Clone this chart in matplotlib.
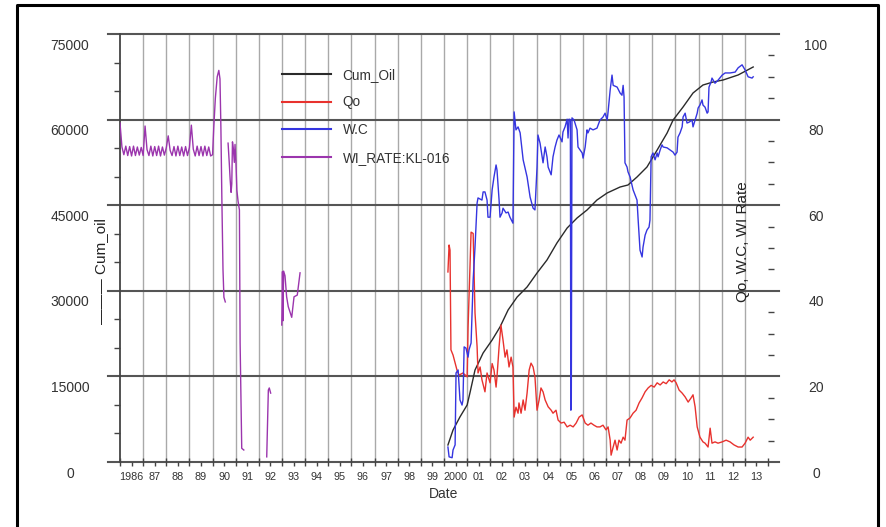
import numpy as np
import matplotlib
matplotlib.use('Agg')
import matplotlib.pyplot as plt
from matplotlib.lines import Line2D
from matplotlib.transforms import ScaledTranslation

nan = np.nan

# Cum_Oil (left axis)
cum_pts = [(2000.17, 2980), (2000.39, 5600), (2000.69, 7900), (2001.00, 9990), (2001.13, 12270),
           (2001.34, 16120), (2001.69, 19100), (2002.08, 21380), (2002.42, 23660), (2002.77, 26640),
           (2003.16, 28910), (2003.59, 30670), (2004.02, 33120), (2004.45, 35400), (2004.88, 38380),
           (2005.32, 41000), (2005.75, 42760), (2006.18, 44160), (2006.61, 45910), (2007.05, 47140),
           (2007.61, 48190), (2007.95, 48540), (2008.34, 49940), (2008.77, 51690), (2009.21, 54670),
           (2009.64, 57650), (2009.90, 59930), (2010.33, 62210), (2010.76, 64660), (2011.19, 66060),
           (2011.63, 66590), (2012.06, 66940), (2012.71, 67820), (2013.36, 69220)]

# Qo (right axis)
qo_pts = [(2000.17, 44.4), (2000.22, 50.7), (2000.26, 49.5), (2000.30, 26.2), (2000.39, 25.0),
          (2000.56, 21.5), (2000.65, 20.3), (2000.82, 20.8), (2001.00, 19.9), (2001.04, 31.5),
          (2001.17, 53.7), (2001.26, 53.4), (2001.34, 34.8), (2001.43, 26.9), (2001.47, 20.8),
          (2001.56, 22.2), (2001.64, 19.2), (2001.77, 16.4), (2001.86, 20.8), (2001.99, 18.5),
          (2002.08, 23.0), (2002.16, 21.5), (2002.25, 17.5), (2002.29, 19.9), (2002.38, 26.9),
          (2002.46, 32.0), (2002.55, 28.5), (2002.64, 24.5), (2002.72, 26.2), (2002.81, 22.2),
          (2002.90, 24.5), (2002.98, 22.2), (2003.03, 10.5), (2003.11, 12.8), (2003.20, 11.4),
          (2003.24, 13.8), (2003.33, 11.4), (2003.42, 14.5), (2003.50, 12.1), (2003.59, 16.1),
          (2003.68, 21.5), (2003.76, 23.1), (2003.85, 22.2), (2003.93, 19.9), (2004.02, 12.1),
          (2004.11, 14.5), (2004.19, 17.3), (2004.28, 16.4), (2004.37, 14.5), (2004.50, 12.9),
          (2004.63, 12.1), (2004.71, 11.4), (2004.84, 12.1), (2004.93, 9.8), (2005.06, 9.1),
          (2005.19, 9.3), (2005.32, 8.2), (2005.45, 8.6), (2005.58, 8.2), (2005.71, 9.1),
          (2005.84, 10.5), (2005.97, 11.0), (2006.10, 9.1), (2006.22, 8.6), (2006.35, 9.1),
          (2006.48, 8.6), (2006.61, 8.2), (2006.74, 8.2), (2006.87, 8.6), (2007.00, 7.5),
          (2007.09, 8.2), (2007.18, 5.1), (2007.22, 1.6), (2007.31, 3.5), (2007.39, 5.1),
          (2007.48, 2.8), (2007.56, 5.1), (2007.65, 4.4), (2007.74, 5.8), (2007.82, 5.1),
          (2007.91, 9.8), (2008.04, 10.3), (2008.17, 11.4), (2008.30, 12.1), (2008.43, 13.8),
          (2008.56, 15.0), (2008.69, 16.4), (2008.82, 17.3), (2008.95, 17.9), (2009.08, 17.5),
          (2009.21, 18.5), (2009.34, 18.0), (2009.47, 18.7), (2009.60, 18.3), (2009.73, 19.2),
          (2009.85, 18.7), (2009.94, 19.2), (2010.03, 18.5), (2010.16, 16.8), (2010.29, 16.1),
          (2010.42, 15.2), (2010.55, 14.0), (2010.68, 15.0), (2010.76, 15.7), (2010.85, 12.9),
          (2010.94, 8.2), (2011.06, 5.8), (2011.19, 4.7), (2011.28, 4.4), (2011.41, 3.5),
          (2011.50, 7.9), (2011.58, 4.4), (2011.71, 4.7), (2011.84, 4.4), (2012.02, 4.7),
          (2012.19, 5.1), (2012.36, 4.7), (2012.53, 4.0), (2012.71, 3.5), (2012.88, 3.5),
          (2013.01, 4.4), (2013.14, 5.8), (2013.23, 5.1), (2013.36, 5.8)]

# W.C (right axis)
wc_pts = [(2000.17, 3.5), (2000.22, 1.2), (2000.35, 1.0), (2000.39, 2.8), (2000.48, 4.0),
          (2000.52, 20.8), (2000.61, 21.5), (2000.69, 14.5), (2000.78, 13.3), (2000.82, 14.5),
          (2000.87, 26.9), (2000.95, 26.6), (2001.04, 24.5), (2001.08, 26.2), (2001.17, 27.8),
          (2001.26, 42.5), (2001.34, 50.2), (2001.43, 60.5), (2001.47, 61.7), (2001.64, 61.2),
          (2001.69, 63.1), (2001.77, 63.1), (2001.86, 61.2), (2001.90, 57.2), (2001.99, 57.2),
          (2002.08, 63.6), (2002.16, 66.6), (2002.25, 69.4), (2002.29, 68.2), (2002.38, 61.2),
          (2002.42, 57.2), (2002.51, 58.2), (2002.55, 59.3), (2002.68, 58.2), (2002.77, 58.4),
          (2002.85, 57.2), (2002.98, 55.8), (2003.03, 81.8), (2003.11, 77.6), (2003.16, 78.0),
          (2003.20, 78.3), (2003.29, 76.9), (2003.37, 72.9), (2003.42, 70.6), (2003.59, 66.6),
          (2003.72, 61.9), (2003.85, 59.3), (2003.93, 58.9), (2004.02, 68.9), (2004.06, 76.4),
          (2004.15, 74.5), (2004.24, 71.3), (2004.28, 69.9), (2004.37, 73.6), (2004.45, 71.3),
          (2004.50, 68.9), (2004.63, 67.1), (2004.71, 71.3), (2004.80, 73.6), (2004.88, 75.2),
          (2004.97, 76.4), (2005.10, 74.8), (2005.14, 77.1), (2005.23, 78.3), (2005.32, 80.1),
          (2005.36, 75.7), (2005.40, 80.1), (2005.46, 80.0), (2005.48, 12.1), (2005.50, 12.5),
          (2005.53, 80.4), (2005.62, 79.9), (2005.75, 77.6), (2005.79, 73.6), (2005.88, 72.9),
          (2005.97, 72.2), (2006.01, 71.0), (2006.10, 73.6), (2006.18, 77.6), (2006.22, 76.9),
          (2006.31, 78.0), (2006.44, 77.6), (2006.61, 78.0), (2006.74, 79.9), (2006.87, 80.6),
          (2006.96, 81.5), (2007.05, 79.9), (2007.09, 81.8), (2007.18, 86.9), (2007.26, 90.4),
          (2007.31, 88.0), (2007.48, 87.6), (2007.61, 86.2), (2007.69, 85.7), (2007.74, 88.0),
          (2007.78, 85.3), (2007.82, 69.9), (2007.91, 68.9), (2007.95, 67.8), (2008.04, 66.6),
          (2008.17, 63.6), (2008.34, 61.2), (2008.39, 56.5), (2008.47, 49.5), (2008.56, 47.9),
          (2008.60, 50.2), (2008.69, 53.0), (2008.77, 54.2), (2008.86, 54.9), (2008.90, 56.5),
          (2008.95, 71.3), (2009.03, 72.2), (2009.12, 70.6), (2009.21, 72.2), (2009.25, 71.3),
          (2009.34, 72.9), (2009.42, 74.1), (2009.47, 73.6), (2009.64, 73.4), (2009.77, 72.9),
          (2009.90, 72.4), (2009.98, 71.7), (2010.07, 72.4), (2010.11, 75.9), (2010.20, 76.9),
          (2010.29, 78.3), (2010.33, 80.6), (2010.42, 81.5), (2010.50, 79.2), (2010.59, 79.4),
          (2010.72, 79.9), (2010.76, 78.3), (2010.85, 79.9), (2010.94, 81.5), (2010.98, 82.7),
          (2011.06, 83.4), (2011.15, 84.6), (2011.19, 83.4), (2011.28, 82.9), (2011.37, 81.5),
          (2011.41, 81.8), (2011.45, 87.6), (2011.54, 88.8), (2011.58, 89.7), (2011.71, 88.5),
          (2011.84, 89.2), (2012.02, 90.4), (2012.15, 90.9), (2012.36, 90.9), (2012.58, 91.1),
          (2012.71, 92.1), (2012.88, 92.8), (2013.01, 91.6), (2013.14, 90.0), (2013.31, 89.7),
          (2013.36, 90.0)]

# WI_RATE:KL-016 (right axis), monthly from Jan 1986 to Jan 1990
wi_monthly = [79.2, 73.6, 71.8, 73.8, 71.6, 73.7, 71.5, 73.8, 71.6, 73.6, 71.7, 73.5,
              71.6, 78.5, 73.0, 71.6, 73.8, 71.5, 73.7, 71.6, 73.8, 71.5, 73.6, 71.7,
              73.4, 76.2, 72.8, 71.6, 73.7, 71.5, 73.8, 71.6, 73.6, 71.5, 73.7, 71.6,
              73.5, 78.7, 73.1, 71.5, 73.8, 71.6, 73.7, 71.5, 73.8, 71.6, 73.6, 71.5,
              71.8]
# later pieces, nan = no record
wi_pts = [(1990.05, 78.0), (1990.12, 85.0), (1990.20, 90.0), (1990.27, 91.5), (1990.32, 89.5),
          (1990.36, 78.0), (1990.40, 62.0), (1990.45, 45.0), (1990.49, 38.5), (1990.55, 37.4),
          (1990.60, nan),
          (1990.67, 74.5), (1990.72, 70.0), (1990.76, 66.0), (1990.80, 63.0), (1990.83, 65.0),
          (1990.86, 74.8), (1990.90, 73.0), (1990.94, 70.0), (1990.97, 74.2), (1991.01, 70.0),
          (1991.05, 63.5), (1991.10, 61.0), (1991.16, 58.9), (1991.19, 27.8), (1991.26, 3.2),
          (1991.35, 2.8),
          (1992.00, nan),
          (1992.34, 1.2), (1992.41, 16.8), (1992.45, 17.3), (1992.51, 16.1),
          (1992.80, nan),
          (1992.99, 32.0), (1993.02, 44.5), (1993.04, 33.0), (1993.07, 44.6), (1993.13, 43.5),
          (1993.20, 38.6), (1993.27, 36.3), (1993.42, 33.8), (1993.52, 38.6), (1993.66, 39.0),
          (1993.78, 44.2)]

year_labels = ['1986'] + ['%02d' % (y % 100) for y in range(1987, 2000)] + ['2000'] + \
              ['%02d' % (y % 100) for y in range(2001, 2014)]
left_ticks = [0, 15000, 30000, 45000, 60000, 75000]
right_ticks = [0, 20, 40, 60, 80, 100]

plt.rcParams['font.family'] = ['Liberation Sans', 'DejaVu Sans']
txt = '#333333'

fig = plt.figure(figsize=(8.86, 5.27), dpi=100)
ax = fig.add_axes([120 / 886, 65 / 527, 648 / 886, 428 / 527])
ax2 = ax.twinx()

ax.set_xlim(1986, 2014)
ax.set_ylim(0, 75000)
ax2.set_ylim(0, 100)

for s in ['top', 'bottom', 'right']:
    ax.spines[s].set_visible(False)
    ax2.spines[s].set_visible(False)
ax2.spines['left'].set_visible(False)
ax.spines['left'].set_color('#444444')
ax.spines['left'].set_linewidth(1.3)
ax2.spines['right'].set_color('#444444')
ax2.spines['right'].set_linewidth(1.3)

# grid: light verticals per year, dark horizontals sticking out of the frame
for yr in range(1987, 2014):
    ax.axvline(yr, color='#a9a9a9', lw=1.0, zorder=0)
for v in left_ticks:
    ax.axhline(v, xmin=-12 / 648, xmax=1 + 11 / 648, color='#555555', lw=1.5,
               clip_on=False, zorder=1)

# data
cx, cy = zip(*cum_pts)
l_cum, = ax.plot(cx, cy, color='#2a2a2a', lw=1.0, zorder=3)

wx = list(1986 + np.arange(len(wi_monthly)) / 12) + [p[0] for p in wi_pts]
wy = wi_monthly + [p[1] for p in wi_pts]
l_wi, = ax2.plot(wx, wy, color='#9b35ad', lw=1.0)
qx, qy = zip(*qo_pts)
l_qo, = ax2.plot(qx, qy, color='#e8322e', lw=1.0)
bx, by = zip(*wc_pts)
l_wc, = ax2.plot(bx, by, color='#3535e0', lw=1.0)

# x axis: year ticks, labels centred in the year
ax.set_xticks(range(1986, 2015))
ax.set_xticks(np.arange(1986.5, 2014, 1.0), minor=True)
ax.set_xticklabels(year_labels, minor=True)
ax.tick_params(axis='x', which='major', direction='inout', length=6, width=1,
               color='#444444', labelbottom=False)
ax.tick_params(axis='x', which='minor', direction='out', length=3, width=1,
               color='#444444', pad=4, labelsize=7.8, labelcolor=txt)

# y axes
ax.set_yticks(left_ticks)
ax.set_yticklabels([str(v) for v in left_ticks])
ax.set_yticks(range(5000, 75000, 5000), minor=True)
ax.tick_params(axis='y', which='major', length=0, pad=36, labelsize=10, labelcolor=txt)
ax.tick_params(axis='y', which='minor', direction='out', length=4, width=1, color='#444444')

ax2.set_yticks(right_ticks)
ax2.set_yticklabels([str(v) for v in right_ticks])
ax2.set_yticks(range(5, 100, 5), minor=True)
ax2.tick_params(axis='y', which='major', length=0, pad=34.5, labelsize=10, labelcolor=txt)
ax2.tick_params(axis='y', which='minor', direction='out', length=4, width=1, color='#444444')

shift = ScaledTranslation(0, -0.10, fig.dpi_scale_trans)
for lbl in ax.get_yticklabels() + ax2.get_yticklabels():
    lbl.set_ha('center')
    lbl.set_transform(lbl.get_transform() + shift)

ax.set_xlabel('Date', fontsize=10, color=txt)
ax.xaxis.set_label_coords(0.5, -0.058)
ax.set_ylabel('\u2014\u2014\u2014 Cum_oil', fontsize=11, color='#222222')
ax.yaxis.set_label_coords(-0.019, 0.445)
ax2.set_ylabel('Qo, W.C, WI Rate', fontsize=11, color='#222222')
ax2.yaxis.set_label_coords(0.951, 0.516)

leg = ax2.legend([l_cum, l_qo, l_wc, l_wi], ['Cum_Oil', 'Qo', 'W.C', 'WI_RATE:KL-016'],
                 loc='upper left', bbox_to_anchor=(0.25, 0.921), frameon=False,
                 borderaxespad=0, borderpad=0, handlelength=3.6, handletextpad=0.85,
                 labelspacing=1.0, fontsize=9.8, labelcolor=txt)
for h in leg.get_lines():
    h.set_linewidth(1.5)

# outer black frame of the screenshot
fig.add_artist(Line2D([17 / 886, 17 / 886, 878 / 886, 878 / 886],
                      [0, 1 - 5 / 527, 1 - 5 / 527, 0],
                      transform=fig.transFigure, color='black', lw=2.2))

fig.savefig('out.png', dpi=100)
